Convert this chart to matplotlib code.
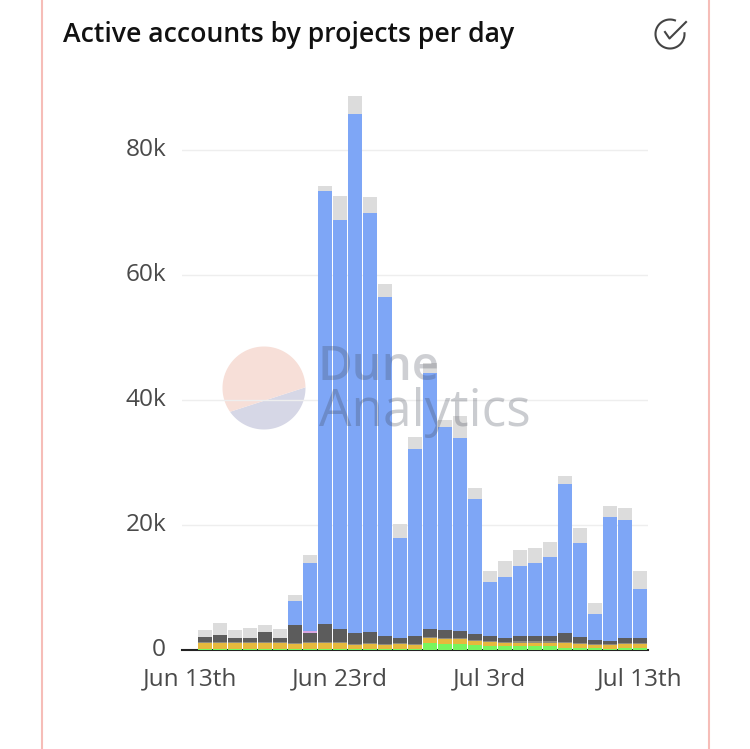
import numpy as np
import pandas as pd
import matplotlib
matplotlib.use("Agg")
import matplotlib.pyplot as plt
import matplotlib.dates as mdates
from matplotlib.patches import Polygon
from matplotlib.transforms import ScaledTranslation

# ---- data (thousands of active accounts per project, per day)
days = pd.date_range("2021-06-14", "2021-07-13", freq="D")
other_green = [0.2,0.2,0.2,0.2,0.2,0.2,0.2,0.2,0.2,0.2,0.2,0.2,0.2,0.2,0.2,
               1.1,1.0,1.0,0.8,0.6,0.6,0.6,0.6,0.6,0.4,0.3,0.3,0.2,0.3,0.3]
yellow = [0.9,0.9,0.9,0.9,0.9,0.9,0.8,0.9,0.9,0.9,0.6,0.7,0.6,0.7,0.6,
          0.8,0.8,0.8,0.6,0.7,0.5,0.6,0.6,0.6,0.7,0.7,0.5,0.6,0.7,0.7]
taupe = [0.2]*30
dark = [0.8,1.1,0.6,0.7,1.6,0.6,2.8,1.4,2.9,2.0,1.8,1.8,1.2,0.9,1.2,
        1.2,1.2,1.0,1.0,0.7,0.7,0.8,0.8,0.8,1.5,0.9,0.6,0.5,0.8,0.7]
pink = [0,0,0,0,0,0,0,0.4,0,0,0,0,0,0,0,
        0,0,0,0,0,0,0,0,0,0,0,0,0,0,0]
blue = [0,0,0,0,0,0,3.8,10.9,69.2,65.5,82.9,67.1,54.3,16.0,30.0,
        41.0,32.5,31.0,21.5,8.7,9.7,11.2,11.7,12.7,23.8,15.0,4.2,19.8,18.8,7.9]
grey = [1.1,1.9,1.3,1.5,1.1,1.4,1.0,1.2,0.8,3.9,2.9,2.5,2.1,2.1,1.8,
        1.7,1.1,3.5,1.9,1.7,2.5,2.6,2.4,2.4,1.3,2.5,1.7,1.8,1.9,2.8]
series = [other_green, yellow, taupe, dark, pink, blue, grey]
colors = ["#77f55e", "#e6b93d", "#8f8c80", "#5c5c5c", "#d9a6e0", "#7ea6f6", "#dcdcdc"]
y_ticks = [0, 20, 40, 60, 80]
y_labels = ["0", "20k", "40k", "60k", "80k"]
x_ticks = pd.to_datetime(["2021-06-13", "2021-06-23", "2021-07-03", "2021-07-13"])
x_labels = ["Jun 13th", "Jun 23rd", "Jul 3rd", "Jul 13th"]
title = "Active accounts by projects per day"

W, H = 750, 749
fig = plt.figure(figsize=(W / 100, H / 100), dpi=100)
fig.patch.set_facecolor("white")
FONT = "Open Sans"

def frame(left, right, top, bottom):
    return [left / W, 1 - bottom / H, (right - left) / W, (bottom - top) / H]

# underlay: page rules and watermark disc
under = fig.add_axes([0, 0, 1, 1], zorder=0)
under.set_xlim(0, W); under.set_ylim(H, 0); under.axis("off")
for px in (41.5, 709):
    under.plot([px, px], [0, H], color="#f6bdb8", lw=1.5, solid_capstyle="butt")
cx, cy, r = 264, 388, 41.5
t = np.radians(np.linspace(-1, 145, 80))
under.add_patch(Polygon(np.c_[cx + r*np.cos(t), cy + r*np.sin(t)], fc="#d6d7e6", ec="none"))
t = np.radians(np.linspace(145, 359, 120))
under.add_patch(Polygon(np.c_[cx + r*np.cos(t), cy + r*np.sin(t)], fc="#f7dfd8", ec="none"))

# main chart
ax = fig.add_axes(frame(182, 648, 90, 650), zorder=1)
ax.patch.set_alpha(0)
bottom = np.zeros(len(days))
for vals, c in zip(series, colors):
    v = np.array(vals, dtype=float)
    ax.bar(days, v, width=0.9, bottom=bottom, color=c, linewidth=0, zorder=3)
    bottom += v
d0 = mdates.date2num(pd.Timestamp("2021-06-13"))
ax.set_xlim(d0 - 8 / 15, d0 + 458 / 15)
ax.set_ylim(0, 560 / 6.25)
ax.set_yticks(y_ticks, y_labels, fontfamily=FONT, fontsize=17.6, color="#4a4a4a")
ax.set_xticks(x_ticks, x_labels, fontfamily=FONT, fontsize=17.6, color="#4a4a4a")
ax.tick_params(axis="both", length=0)
ax.tick_params(axis="y", pad=11.5)
ax.tick_params(axis="x", pad=12.5)
up = ScaledTranslation(0, 2.5 / 72, fig.dpi_scale_trans)
for lab in ax.get_yticklabels():
    lab.set_transform(lab.get_transform() + up)
ax.grid(axis="y", color="#eeeeee", lw=1, zorder=0)
ax.set_axisbelow(True)
for s in ("top", "left", "right"):
    ax.spines[s].set_visible(False)
ax.spines["bottom"].set_color("#222222")
ax.spines["bottom"].set_linewidth(1.5)

# overlay: title, icon, watermark text
over = fig.add_axes([0, 0, 1, 1], zorder=2)
over.set_xlim(0, W); over.set_ylim(H, 0); over.axis("off"); over.patch.set_alpha(0)
over.text(63, 35, title, fontfamily=FONT, fontsize=19.2, fontweight="semibold",
          color="#111111", va="center", ha="left")
over.text(317, 367, "Dune", fontfamily=FONT, fontsize=34, fontweight="semibold", color="#3d4352", alpha=0.25, va="center")
over.text(319, 413, "Analytics", fontfamily=FONT, fontsize=37, color="#3d4352", alpha=0.27, va="center")
t = np.radians(np.linspace(-3, 290, 80))
over.plot(670 + 14.5*np.cos(t), 34 + 14.5*np.sin(t), color="#444444", lw=1.5)
over.plot([665, 669.5, 686], [32, 38.5, 22], color="#444444", lw=1.5)

fig.savefig("out.png", dpi=100)
